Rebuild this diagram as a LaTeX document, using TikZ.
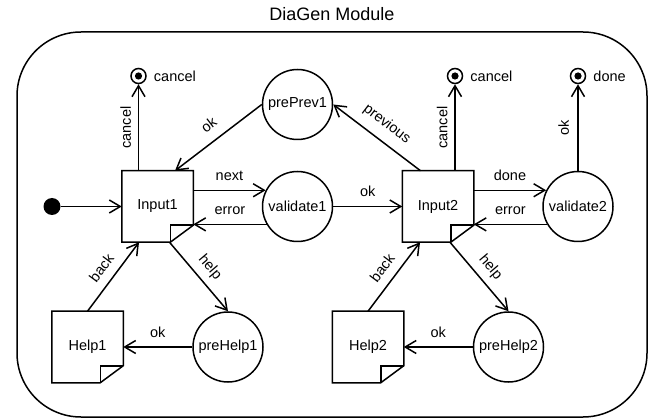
\documentclass[tikz,border=0pt]{standalone}
\usepackage{fontspec}
\setmainfont{Liberation Sans}
\usetikzlibrary{arrows.meta}

\tikzset{
  base/.style={line width=1.5pt, font=\fontsize{14.5}{17}\selectfont},
  docbox/.style={base, minimum width=70pt, minimum height=70pt, inner sep=0pt},
  stnode/.style={base, draw, circle, minimum size=70pt, inner sep=0pt},
  finalnode/.style={base, draw, circle, minimum size=15pt, inner sep=0pt,
    path picture={\fill (path picture bounding box.center) circle (3.6pt);}},
  initnode/.style={fill=black, circle, minimum size=17pt, inner sep=0pt},
  conn/.style={line width=1.5pt, -{Straight Barb[length=11pt,width=13pt]}},
  lbl/.style={font=\fontsize{14.5}{17}\selectfont, inner sep=0pt, text depth=0pt},
}

% document-shaped box: square outline with a folded lower right corner
\newcommand{\docshape}[1]{%
  \draw[line width=1.5pt, line join=miter]
    (#1.north west) -- (#1.north east) -- ([yshift=17pt]#1.south east)
    -- ([xshift=-23pt]#1.south east) -- (#1.south west) -- cycle;
  \draw[line width=1.5pt]
    ([xshift=-23pt]#1.south east) -- ([xshift=-23pt,yshift=17pt]#1.south east)
    -- ([yshift=17pt]#1.south east);
}

\begin{document}
\begin{tikzpicture}[x=1pt,y=-1pt]
\useasboundingbox (0,0) rectangle (658,419);

% module frame and title
\node[draw, line width=1.5pt, rounded corners=64pt, minimum width=630pt,
      minimum height=385pt, inner sep=0pt] (module) at (332,224.5) {};
\node[font=\fontsize{18}{21}\selectfont, inner sep=0pt] (title) at (332,14) {DiaGen Module};

% pages
\node[docbox] (in1) at (157.5,206.5) {Input1};
\node[docbox] (in2) at (438,206.5) {Input2};
\node[docbox] (hp1) at (87.5,347) {Help1};
\node[docbox] (hp2) at (368,347) {Help2};
\docshape{in1}
\docshape{in2}
\docshape{hp1}
\docshape{hp2}

% actions
\node[stnode] (prev) at (297.5,104.5) {prePrev1};
\node[stnode] (val1) at (297.5,206.5) {validate1};
\node[stnode] (val2) at (578,206.5) {validate2};
\node[stnode] (ph1) at (228,347) {preHelp1};
\node[stnode] (ph2) at (508.5,347) {preHelp2};

% start and exits
\node[initnode] (start) at (52,206.5) {};
\node[finalnode, label={[lbl, label distance=7pt]right:cancel}] (fin1) at (138.5,76) {};
\node[finalnode, label={[lbl, label distance=7pt]right:cancel}] (fin2) at (455,76) {};
\node[finalnode, label={[lbl, label distance=7pt]right:done}] (fin3) at (578,76) {};

% transitions
\draw[conn] (start) -- (in1);
\draw[conn] ([xshift=-19pt]in1.north) -- node[lbl, sloped, above=7pt] {cancel} (fin1);
\draw[conn] ([xshift=17pt]in2.north) -- node[lbl, sloped, above=7pt] {cancel} (fin2);
\draw[conn] (val2.north) -- node[lbl, sloped, above=8.5pt] {ok} (fin3);

\draw[conn] (prev.west) -- node[lbl, sloped, above=10pt] {ok} ([xshift=17.5pt]in1.north);
\draw[conn] ([xshift=-17.5pt]in2.north) -- node[lbl, sloped, above=12pt] {previous} (prev.east);

\draw[conn] (in1.east |- val1.153.7) -- node[lbl, above=9.5pt] {next} (val1.153.7);
\draw[conn] (val1.210) -- node[lbl, above=9.5pt] {error} (in1.east |- val1.210);
\draw[conn] (val1.east) -- node[lbl, above=9pt] {ok} (in2.west);
\draw[conn] (in2.east |- val2.153.7) -- node[lbl, above=9.5pt] {done} (val2.153.7);
\draw[conn] (val2.210) -- node[lbl, above=9.5pt] {error} (in2.east |- val2.210);

\draw[conn] ([xshift=12pt]in1.south) -- node[lbl, sloped, above=10pt] {help} (ph1.north);
\draw[conn] (hp1.north) -- node[lbl, sloped, above=9pt] {back} ([xshift=-18.5pt]in1.south);
\draw[conn] (ph1.west) -- node[lbl, above=9pt] {ok} (hp1.east);

\draw[conn] ([xshift=12pt]in2.south) -- node[lbl, sloped, above=10pt] {help} (ph2.north);
\draw[conn] (hp2.north) -- node[lbl, sloped, above=9pt] {back} ([xshift=-18pt]in2.south);
\draw[conn] (ph2.west) -- node[lbl, above=9pt] {ok} (hp2.east);
\end{tikzpicture}
\end{document}
